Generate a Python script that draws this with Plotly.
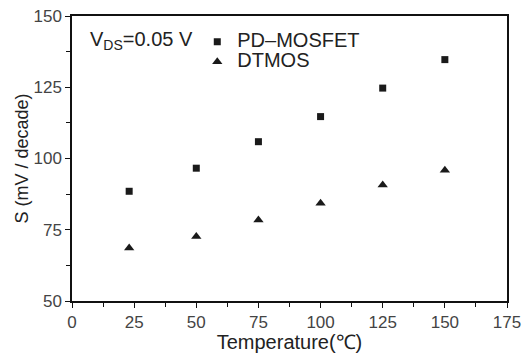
import plotly.graph_objects as go

temps = [23, 50, 75, 100, 125, 150]
pd_mosfet = [88.5, 96.6, 105.9, 114.7, 124.7, 134.7]
dtmos = [68.6, 72.6, 78.4, 84.3, 90.7, 95.9]
xticks = [0, 25, 50, 75, 100, 125, 150, 175]
yticks = [50, 75, 100, 125, 150]
series_names = ["PD\u2013MOSFET", "DTMOS"]

FONT = "Liberation Sans, Arial, sans-serif"
TXT = "#222222"

def big(s):
    return '<span style="font-size:20px">' + s + '</span>'

fig = go.Figure()
fig.add_trace(go.Scatter(x=temps, y=pd_mosfet, mode="markers", name=big(series_names[0]),
                         marker=dict(symbol="square", size=7, color="#1a1a1a")))
fig.add_trace(go.Scatter(x=temps, y=dtmos, mode="markers", name=big(series_names[1]),
                         marker=dict(symbol="triangle-up", size=9, color="#1a1a1a")))

axis_common = dict(showline=True, linecolor="#111111", linewidth=1.5, mirror=True,
                   ticks="outside", ticklen=5, tickwidth=1.2, tickcolor="#111111",
                   showgrid=False, zeroline=False,
                   tickfont=dict(family=FONT, size=17, color="#444444"))

fig.update_xaxes(range=[0, 175], tickvals=xticks,
                 minor=dict(dtick=12.5, tick0=0, ticks="outside", ticklen=4, tickcolor="#111111"),
                 title=dict(text="Temperature(\u2103)", font=dict(family=FONT, size=20, color=TXT), standoff=12),
                 **axis_common)
fig.update_yaxes(range=[50, 150], tickvals=yticks,
                 minor=dict(dtick=12.5, tick0=50, ticks="outside", ticklen=4, tickcolor="#111111"),
                 title=dict(text="S (mV / decade)", font=dict(family=FONT, size=18, color=TXT), standoff=0),
                 **axis_common)

fig.add_annotation(xref="paper", yref="paper", x=0.036, y=0.915, xanchor="left", yanchor="middle",
                   text="V<sub>DS</sub>=0.05 V", showarrow=False,
                   font=dict(family=FONT, size=20, color=TXT))

fig.update_layout(
    width=531, height=353,
    margin=dict(l=72, r=24, t=16, b=52, autoexpand=False),
    paper_bgcolor="white", plot_bgcolor="white",
    showlegend=True,
    legend=dict(x=0.288, y=0.962, xanchor="left", yanchor="top", bgcolor="rgba(0,0,0,0)",
                font=dict(family=FONT, size=13, color=TXT), tracegroupgap=0, itemwidth=30),
)

fig.write_html("out.html")
